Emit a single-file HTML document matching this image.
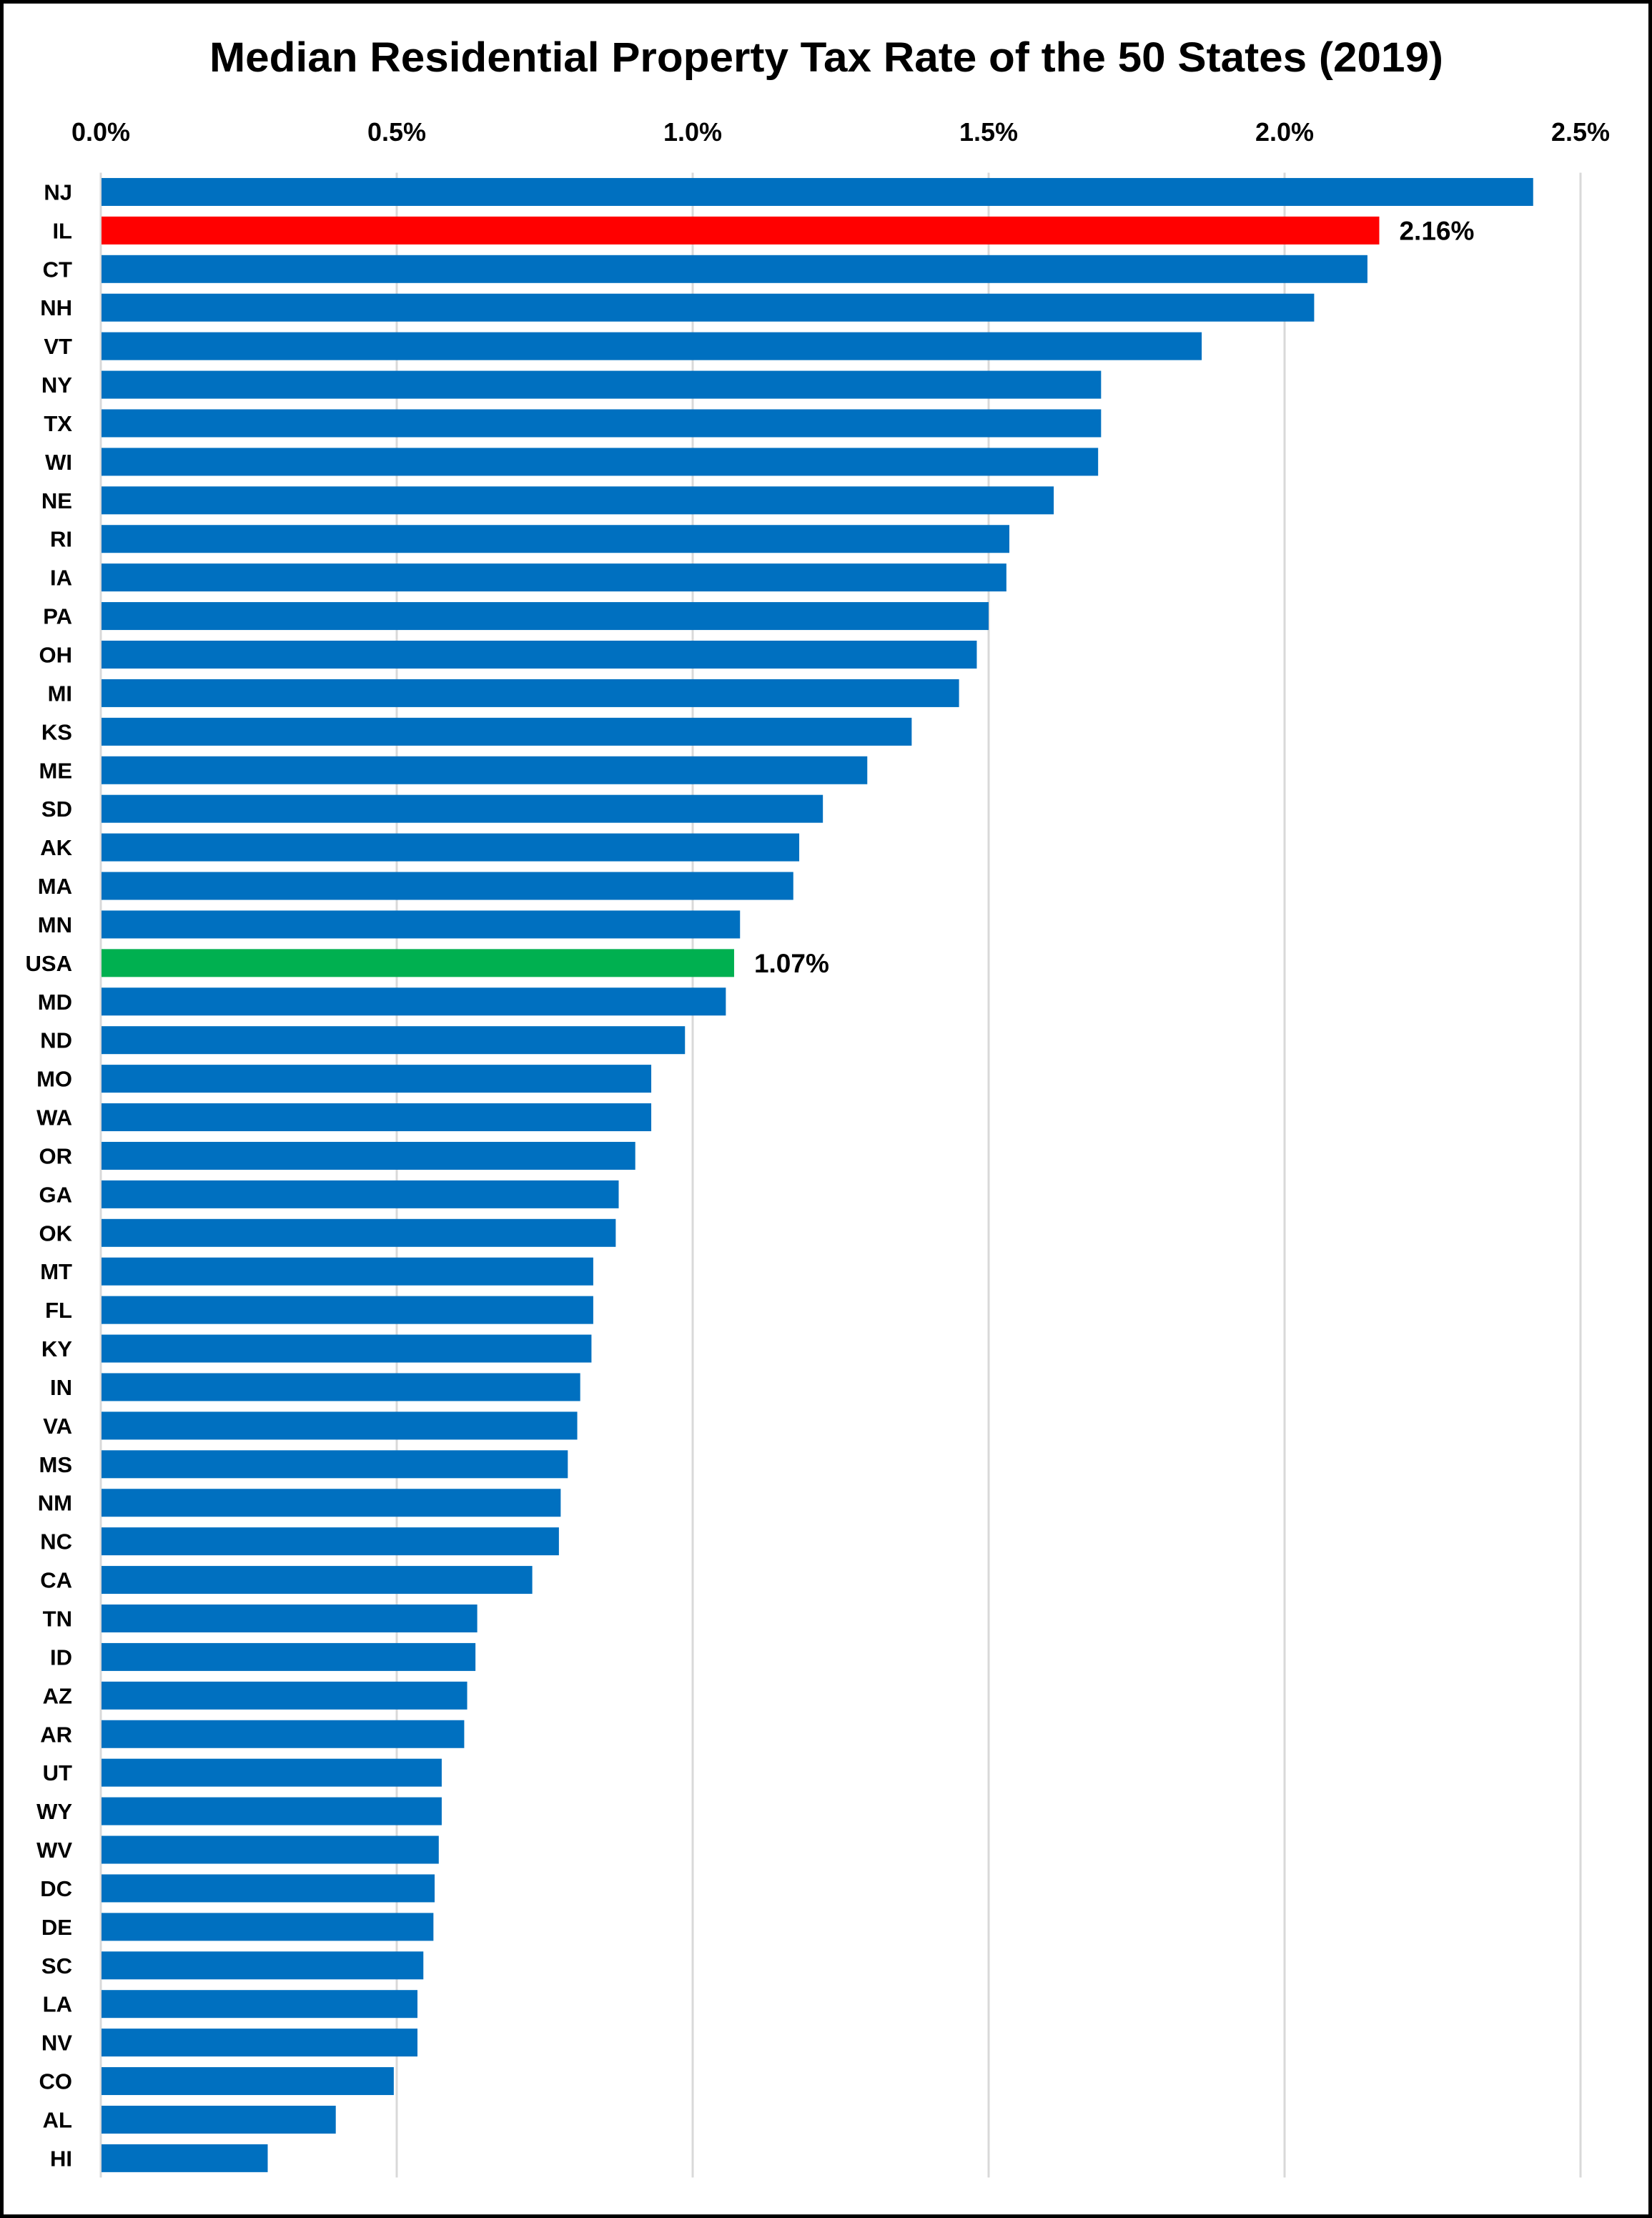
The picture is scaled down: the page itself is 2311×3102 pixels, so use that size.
<!DOCTYPE html>
<html><head><meta charset="utf-8"><style>
html,body{margin:0;padding:0;background:#fff;}
svg{display:block;}
</style></head><body>
<svg id="chart" width="2311" height="3102" viewBox="0 0 2311 3102" xmlns="http://www.w3.org/2000/svg" font-family="'Liberation Sans', sans-serif">
<rect x="2.5" y="2.5" width="2306" height="3097" fill="#fff" stroke="#000" stroke-width="5"/>
<text x="1156" y="100" text-anchor="middle" font-size="58" font-weight="bold" textLength="1726" lengthAdjust="spacingAndGlyphs">Median Residential Property Tax Rate of the 50 States (2019)</text>
<g id="grid"></g><g id="ticks"></g><g id="bars"></g><g id="cats"></g><g id="vals"></g>
</svg>
<script>
const categories = ["NJ","IL","CT","NH","VT","NY","TX","WI","NE","RI","IA","PA","OH","MI","KS","ME","SD","AK","MA","MN","USA","MD","ND","MO","WA","OR","GA","OK","MT","FL","KY","IN","VA","MS","NM","NC","CA","TN","ID","AZ","AR","UT","WY","WV","DC","DE","SC","LA","NV","CO","AL","HI"];
const rates = [2.42,2.16,2.14,2.05,1.86,1.69,1.69,1.685,1.61,1.535,1.53,1.50,1.48,1.45,1.37,1.295,1.22,1.18,1.17,1.08,1.07,1.056,0.987,0.93,0.93,0.903,0.875,0.87,0.832,0.832,0.829,0.81,0.805,0.789,0.777,0.774,0.729,0.636,0.633,0.619,0.614,0.576,0.576,0.571,0.564,0.562,0.545,0.535,0.535,0.495,0.397,0.282];
const tickValues = [0,0.5,1.0,1.5,2.0,2.5];
const tickLabels = ["0.0%","0.5%","1.0%","1.5%","2.0%","2.5%"];
const highlights = {"IL":"#ff0000","USA":"#00b050"};
const labeled = ["IL","USA"];

const NS="http://www.w3.org/2000/svg";
const X0=141, PX_PER=828, TOP=241.5, BAND=53.92, BARH=39;
const xScale=v=>X0+v*PX_PER;
const yBand=i=>TOP+i*BAND;
const plotBottom=TOP+categories.length*BAND;
function mk(tag,parent,attrs){const e=document.createElementNS(NS,tag);for(const k in attrs)e.setAttribute(k,attrs[k]);parent.appendChild(e);return e;}
const grid=document.getElementById('grid'),ticks=document.getElementById('ticks'),bars=document.getElementById('bars'),cats=document.getElementById('cats'),vals=document.getElementById('vals');
tickValues.forEach((v,i)=>{
  const l=mk('line',grid,{x1:xScale(v),x2:xScale(v),y1:TOP,y2:plotBottom,stroke:'#d9d9d9','stroke-width':3});
  
  
  const t=mk('text',ticks,{x:xScale(v),y:197,'text-anchor':'middle','font-size':36,'font-weight':'bold'});
  t.textContent=tickLabels[i];
  
  
});
categories.forEach((c,i)=>{
  const y=yBand(i)+(BAND-BARH)/2;
  const r=mk('rect',bars,{x:xScale(0)+1,y:y,width:xScale(rates[i])-xScale(0)-1,height:BARH,fill:highlights[c]||'#0070c0'});
  
  
  const t=mk('text',cats,{x:101,y:y+BARH/2+11,'text-anchor':'end','font-size':31,'font-weight':'bold'});
  t.textContent=c;
  
  
  if(labeled.includes(c)){
    const v=mk('text',vals,{x:xScale(rates[i])+28,y:y+BARH/2+13,'font-size':37,'font-weight':'bold'});
    v.textContent=rates[i].toFixed(2)+'%';
    
    
  }
});
</script>
</body></html>
